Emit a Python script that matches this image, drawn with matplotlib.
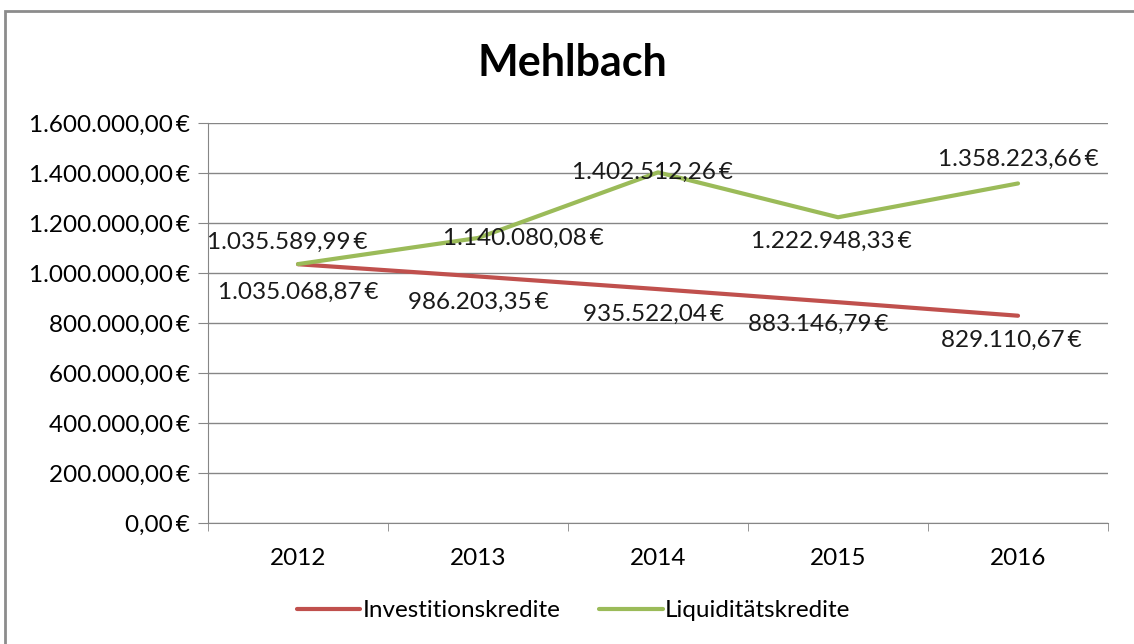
import matplotlib
matplotlib.use("Agg")
import matplotlib.pyplot as plt
from matplotlib.patches import Rectangle
from matplotlib.ticker import FuncFormatter

plt.rcParams['font.family'] = ['Lato', 'DejaVu Sans']

years = ["2012", "2013", "2014", "2015", "2016"]
invest = [1035068.87, 986203.35, 935522.04, 883146.79, 829110.67]
liquid = [1035589.99, 1140080.08, 1402512.26, 1222948.33, 1358223.66]

# label offsets in points (dx, dy)
invest_off = [(0, -20), (0, -19), (-3, -18), (-14, -16), (-5, -18)]
liquid_off = [(-8, 16), (33, 0), (-4, 0), (-5, -17), (0, 17)]

FS = 17.5


def euro(v, pos=None):
    s = f"{v:,.2f}".replace(",", "X").replace(".", ",").replace("X", ".")
    return s + "\u2009€"


fig = plt.figure(figsize=(11.34, 6.44), dpi=100)
ax = fig.add_axes([208 / 1134, 121 / 644, 900 / 1134, 400 / 644])

x = range(len(years))
ax.plot(x, invest, color="#C0504D", lw=3, solid_capstyle="round", label="Investitionskredite", zorder=3)
ax.plot(x, liquid, color="#9BBB59", lw=3, solid_capstyle="round", label="Liquiditätskredite", zorder=3)

for i, v in enumerate(invest):
    ax.annotate(euro(v), (i, v), xytext=invest_off[i], textcoords="offset points",
                ha="center", va="center", fontsize=FS, color="#1a1a1a")
for i, v in enumerate(liquid):
    ax.annotate(euro(v), (i, v), xytext=liquid_off[i], textcoords="offset points",
                ha="center", va="center", fontsize=FS, color="#1a1a1a")

ax.set_xlim(-0.5, 4.5)
ax.set_ylim(0, 1600000)
ax.set_yticks(range(0, 1600001, 200000))
ax.yaxis.set_major_formatter(FuncFormatter(euro))
ax.set_xticks(list(x))
ax.set_xticklabels(years)
ax.set_xticks([i - 0.5 for i in range(6)], minor=True)
ax.tick_params(axis="x", which="major", length=0, pad=18, labelsize=FS)
ax.tick_params(axis="x", which="minor", length=6, color="#868686", direction="out")
ax.tick_params(axis="y", length=7, color="#868686", pad=6, labelsize=FS)

ax.grid(axis="y", color="#868686", lw=1)
ax.set_axisbelow(True)
for s in ["top", "right"]:
    ax.spines[s].set_visible(False)
for s in ["left", "bottom"]:
    ax.spines[s].set_color("#868686")

fig.text(0.505, 0.902, "Mehlbach", ha="center", va="center", fontsize=31, fontweight="bold")

fig.legend(loc="center", bbox_to_anchor=(0.506, 0.052), ncol=2, frameon=False,
           fontsize=FS, handlelength=2.6, handletextpad=0.1, columnspacing=1.6)

fig.patches.append(Rectangle((5 / 1134, -0.05), 1.2, 1 - 11 / 644 + 0.05, transform=fig.transFigure,
                             fill=False, edgecolor="#8c8c8c", lw=2))

fig.savefig("out.png", dpi=100)
